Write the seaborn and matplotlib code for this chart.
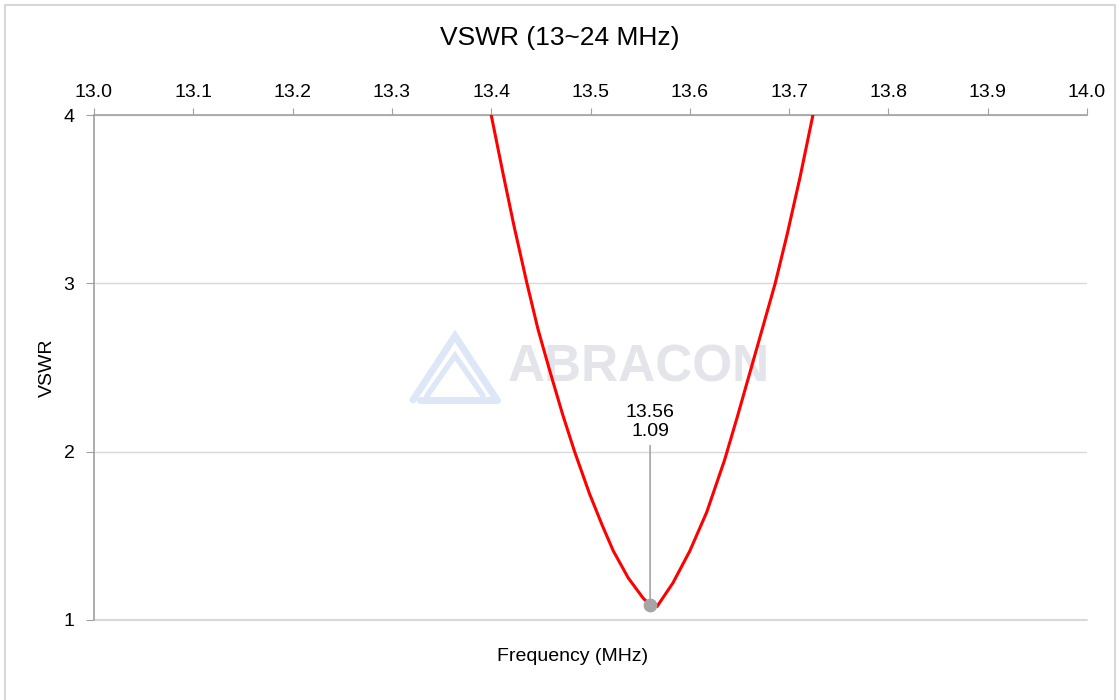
import numpy as np
import pandas as pd
import matplotlib.pyplot as plt
import seaborn as sns
from matplotlib.patches import Rectangle
from matplotlib.ticker import FormatStrFormatter

# dados (frequência em MHz, VSWR)
freq = [13.400, 13.412, 13.423, 13.436, 13.447, 13.459, 13.472, 13.484,
        13.499, 13.512, 13.523, 13.538, 13.553, 13.560, 13.567,
        13.583, 13.600, 13.617, 13.635, 13.648, 13.661, 13.674, 13.686,
        13.698, 13.711, 13.724]
vswr = [4.00, 3.65, 3.34, 3.00, 2.73, 2.48, 2.22, 2.00,
        1.75, 1.56, 1.41, 1.25, 1.13, 1.09, 1.08,
        1.22, 1.41, 1.64, 1.95, 2.21, 2.48, 2.75, 3.00,
        3.29, 3.63, 4.00]
min_freq = 13.56
min_vswr = 1.09
x_ticks = [13.0, 13.1, 13.2, 13.3, 13.4, 13.5, 13.6, 13.7, 13.8, 13.9, 14.0]
y_ticks = [1, 2, 3, 4]

dados = pd.DataFrame({'Frequency': freq, 'VSWR': vswr})

sns.set_style('white')
plt.rcParams['font.family'] = ['Liberation Sans', 'DejaVu Sans']
plt.rcParams['text.color'] = 'black'
plt.rcParams['axes.labelcolor'] = 'black'
plt.rcParams['xtick.labelcolor'] = 'black'
plt.rcParams['ytick.labelcolor'] = 'black'

fig = plt.figure(figsize=(11.2, 7), dpi=100)
ax = fig.add_axes([94 / 1120, 1 - 620 / 700, 993 / 1120, 505 / 700])

# moldura externa do gráfico
fig.patches.append(Rectangle((5 / 1120, -0.01), 1110 / 1120, 1 - 5 / 700 + 0.01,
                             transform=fig.transFigure, fill=False,
                             edgecolor='#d0d0d0', linewidth=1.2))

# marca d'água
ax.text(0.549, 0.5, 'ABRACON', transform=ax.transAxes, fontsize=37,
        fontweight='bold', color='#e3e5eb', ha='center', va='center', zorder=0)
for off, lw in [(0, 5), (14, 4)]:
    xs = [(413 + off - 94) / 993, (455 - 94) / 993, (497 - off - 94) / 993]
    ys = [(620 - 400 + off * 0.3) / 505, (620 - 336 - off * 1.4) / 505,
          (620 - 400 + off * 0.3) / 505]
    ax.plot(xs, ys, transform=ax.transAxes, color='#dde7f7', linewidth=lw,
            zorder=0, solid_joinstyle='miter')
ax.plot([(420 - 94) / 993, (497 - 94) / 993], [(620 - 400) / 505, (620 - 400) / 505],
        transform=ax.transAxes, color='#dde7f7', linewidth=5, zorder=0)

sns.lineplot(data=dados, x='Frequency', y='VSWR', ax=ax, color='#ff0000',
             linewidth=2.2, sort=False, zorder=3)

ax.scatter([min_freq], [min_vswr], s=80, color='#a5a5a5', zorder=4)
ax.annotate(f'{min_freq:.2f}\n{min_vswr:.2f}', xy=(min_freq, min_vswr),
            xytext=(0, 119), textcoords='offset points', ha='center', va='bottom',
            fontsize=14, linespacing=1.1,
            arrowprops=dict(arrowstyle='-', color='#a5a5a5', linewidth=1.2,
                            shrinkA=2, shrinkB=0))

ax.set_xlim(13.0, 14.0)
ax.set_ylim(1, 4)
ax.set_xticks(x_ticks)
ax.set_yticks(y_ticks)
ax.xaxis.set_major_formatter(FormatStrFormatter('%.1f'))
ax.xaxis.tick_top()
ax.tick_params(axis='x', which='both', top=True, bottom=False, direction='out',
               length=5, color='#a0a0a0', labelsize=14, pad=5)
ax.tick_params(axis='y', left=True, direction='out', length=6, color='#a0a0a0',
               labelsize=14, pad=8)

ax.grid(axis='y', color='#d9d9d9', linewidth=1)
ax.grid(axis='x', visible=False)
ax.axhline(1, color='#d9d9d9', linewidth=1.5, clip_on=False, zorder=1)
for lado in ['right', 'bottom']:
    ax.spines[lado].set_visible(False)
for lado in ['top', 'left']:
    ax.spines[lado].set_color('#a0a0a0')
    ax.spines[lado].set_linewidth(1.2)

ax.set_xlabel('Frequency (MHz)', fontsize=14)
ax.xaxis.set_label_position('bottom')
ax.xaxis.set_label_coords(0.482, -0.055)
ax.set_ylabel('VSWR', fontsize=14)
ax.yaxis.set_label_coords(-0.038, 0.5)

fig.suptitle('VSWR (13~24 MHz)', fontsize=19, y=1 - 38 / 700, va='center')

fig.savefig('out.png', dpi=100)
